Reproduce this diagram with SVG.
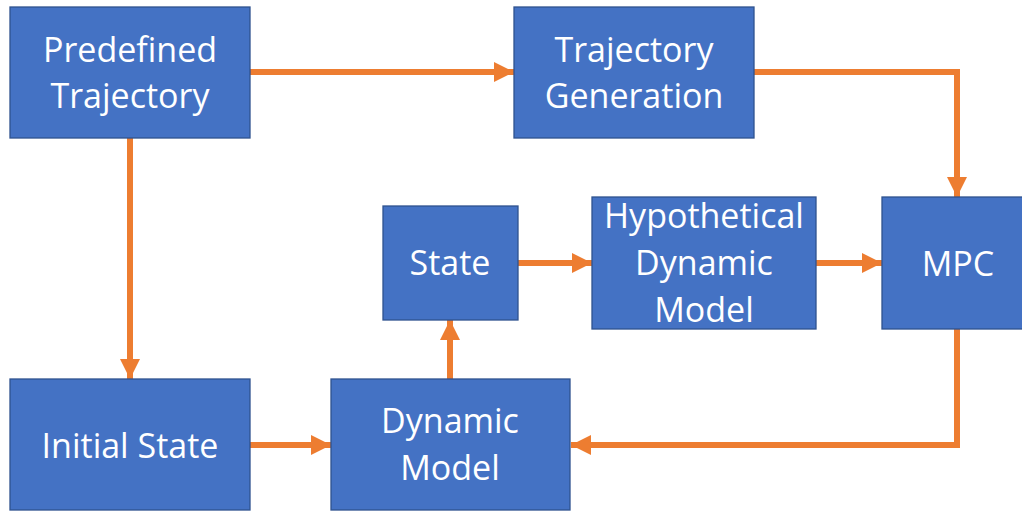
<svg xmlns="http://www.w3.org/2000/svg" width="1022" height="511" viewBox="0 0 1022 511">
<style>
.box{fill:#4472C4;stroke:#2F528F;stroke-width:1.3}
.lbl{font-family:"Open Sans","Liberation Sans",sans-serif;font-size:34px;fill:#FFFFFF;text-anchor:middle}
.con{fill:none;stroke:#ED7D31;stroke-width:6;stroke-linejoin:miter}
</style>
<defs>
<marker id="ah" markerUnits="userSpaceOnUse" markerWidth="20" markerHeight="22" viewBox="0 0 20 22" refX="20" refY="11" orient="auto">
<path d="M0,1 L20,11 L0,21 Z" fill="#ED7D31"/>
</marker>
</defs>
<rect width="1022" height="511" fill="#FFFFFF"/>
<g id="connectors">
<path class="con" d="M250,72 H514" marker-end="url(#ah)"/>
<path class="con" d="M754,72 H957 V197" marker-end="url(#ah)"/>
<path class="con" d="M957,329 V445 H571" marker-end="url(#ah)"/>
<path class="con" d="M130,138 V379" marker-end="url(#ah)"/>
<path class="con" d="M250,445 H331" marker-end="url(#ah)"/>
<path class="con" d="M450,379 V320" marker-end="url(#ah)"/>
<path class="con" d="M518,263 H592" marker-end="url(#ah)"/>
<path class="con" d="M816,263 H882" marker-end="url(#ah)"/>
</g>
<g id="predefined-trajectory">
<rect class="box" x="10" y="7" width="240" height="131"/>
<text class="lbl" x="130" y="62">Predefined</text>
<text class="lbl" x="130" y="108">Trajectory</text>
</g>
<g id="trajectory-generation">
<rect class="box" x="514" y="7" width="240" height="131"/>
<text class="lbl" x="634" y="62">Trajectory</text>
<text class="lbl" x="634" y="108">Generation</text>
</g>
<g id="state">
<rect class="box" x="383" y="206" width="135" height="114"/>
<text class="lbl" x="450" y="275">State</text>
</g>
<g id="hypothetical-dynamic-model">
<rect class="box" x="592" y="197" width="224" height="132"/>
<text class="lbl" x="704" y="228">Hypothetical</text>
<text class="lbl" x="704" y="275">Dynamic</text>
<text class="lbl" x="704" y="322">Model</text>
</g>
<g id="mpc">
<rect class="box" x="882" y="197" width="150" height="132"/>
<text class="lbl" x="958" y="276">MPC</text>
</g>
<g id="initial-state">
<rect class="box" x="10" y="379" width="240" height="131"/>
<text class="lbl" x="130" y="458">Initial State</text>
</g>
<g id="dynamic-model">
<rect class="box" x="331" y="379" width="239" height="131"/>
<text class="lbl" x="450" y="433">Dynamic</text>
<text class="lbl" x="450" y="480">Model</text>
</g>
</svg>
